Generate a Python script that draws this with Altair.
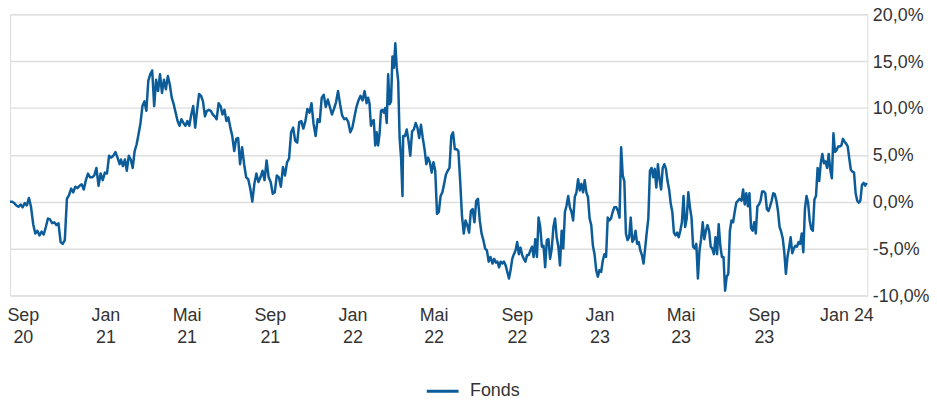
import altair as alt
import pandas as pd

# --- data (percent performance "Fonds") ---
seg_bounds = [
    ("2020-08-13", "2021-01-22"),
    ("2021-01-24", "2021-07-19"),
    ("2021-07-22", "2022-01-19"),
    ("2022-01-22", "2022-03-16"),
    ("2022-03-17", "2022-07-24"),
    ("2022-07-27", "2023-01-23"),
    ("2023-01-26", "2023-07-27"),
    ("2023-07-30", "2024-01-31"),
]

seg1 = [0.0, 0.0, -0.15, -0.4, -0.55, -0.3, -0.6, -0.15, -0.4, 0.4, -0.6, -2.4, -3.4, -3.1,
        -3.6, -3.2, -3.5, -2.7, -1.8, -1.9, -2.3, -2.2, -2.5, -2.3, -4.3, -4.5, -4.1, 0.3,
        0.7, 1.4, 1.0, 1.6, 1.45, 1.7, 1.85, 1.3, 2.3, 3.0, 2.6, 2.6, 2.8, 3.6, 1.7, 3.0,
        2.3, 3.1, 3.0, 4.9, 4.7, 4.9, 5.3, 4.7, 4.0]
seg2 = [4.5, 3.8, 4.5, 3.3, 4.9, 4.5, 3.6, 5.4, 6.1, 7.2, 8.4, 10.2, 10.7, 9.7, 12.9, 13.6,
        14.0, 10.2, 13.0, 11.8, 13.6, 11.6, 13.0, 12.0, 13.4, 12.5, 11.1, 10.4, 9.5, 8.6,
        8.1, 8.8, 8.4, 8.1, 8.6, 8.1, 9.3, 10.2, 7.9, 9.8, 11.5, 11.3, 10.7, 9.1, 9.7, 9.8,
        9.7, 9.3, 9.1, 8.8, 10.5, 10.2, 9.3, 9.8, 8.6, 9.0, 7.9, 7.0, 5.4, 6.7, 6.8, 4.0]
seg3 = [5.8, 4.0, 2.6, 2.4, 1.4, 0.0, 1.9, 3.0, 2.1, 2.6, 3.3, 2.3, 4.4, 2.6, 2.1, 0.85,
        1.0, 2.8, 2.6, 1.6, 3.7, 2.8, 4.2, 4.6, 7.4, 7.9, 6.5, 6.3, 8.5, 8.6, 7.8, 8.6, 9.9,
        9.5, 10.5, 8.3, 7.0, 8.8, 8.5, 11.1, 11.4, 10.1, 10.9, 10.1, 9.3, 9.9, 10.6, 11.8,
        10.4, 9.2, 8.8, 8.9, 8.5, 7.4, 7.9, 9.0, 10.1, 10.8, 11.3, 10.8, 11.8]
seg4 = [10.5, 11.1, 10.5, 8.1, 8.6, 8.7, 6.0, 7.4, 6.0, 7.2, 9.7, 9.8, 9.5, 10.0, 8.4, 13.6,
        10.4, 10.7, 15.5, 14.3, 16.9, 14.3, 12.9, 6.8, 4.7, 0.6]
seg5 = [7.0, 7.0, 7.7, 6.5, 4.9, 7.5, 7.7, 8.4, 7.9, 6.8, 8.2, 6.8, 5.6, 4.0, 4.7, 4.2, 3.1,
        4.2, 3.3, -1.3, -1.1, 0.6, 1.0, 1.9, 2.9, 3.3, 3.6, 7.0, 7.4, 5.6, 5.6, 5.4, 2.2,
        -1.5, -3.4, -2.0, -2.5, -3.3, -1.0, -0.8, -2.2, 0.1, 0.3, -2.0, -3.4, -4.1, -5.0,
        -5.2, -6.4, -5.9]
seg6 = [-6.6, -6.1, -6.5, -6.4, -7.0, -6.4, -6.6, -6.4, -6.8, -7.5, -8.2, -7.3, -6.1, -5.6,
        -5.2, -4.3, -5.6, -4.9, -5.7, -6.1, -6.4, -5.7, -5.7, -5.2, -4.8, -5.9, -4.0, -5.9,
        -1.7, -2.7, -4.8, -4.7, -7.0, -4.1, -4.0, -6.1, -5.0, -2.7, -1.8, -3.8, -4.8, -6.8,
        -3.1, -5.0, -1.1, -0.4, 0.6, -0.6, -1.1, -2.0, 0.5, 1.0, 2.4, 1.2, 1.9, 1.0, 2.3,
        1.0, 0.5, -1.8, -2.5, -4.7, -5.6, -7.3, -8.0, -7.3, -7.5, -6.3, -5.6, -5.9, -1.7,
        -2.0, -1.8, -1.1, -0.6]
seg7 = [-0.6, -1.0, -1.7, 5.8, 2.8, 2.2, -3.4, -4.1, -3.8, -1.7, -4.3, -4.0, -3.1, -4.5,
        -4.3, -5.2, -5.7, -6.6, -5.0, -3.3, -1.8, 3.3, 3.6, 2.6, 3.5, 1.5, 4.0, 2.4, 1.3,
        3.6, 4.0, 3.5, 2.2, 1.3, -0.2, -1.1, -3.3, -3.6, -3.3, -3.8, -3.1, -2.2, 0.6, -2.7,
        -1.8, 1.0, -0.6, -1.7, -4.8, -5.0, -4.5, -8.2, -5.2, -4.0, -2.2, -4.0, -3.1, -2.5,
        -3.1, -4.8, -5.0, -5.6, -3.8, -5.6, -2.4, -4.7, -5.9, -5.9, -9.5, -8.0, -7.7, -3.1,
        -2.0, -2.2, -1.1, -0.1, 0.1, 0.3]
seg8 = [0.1, 1.3, -0.3, 0.9, -0.5, 0.9, -2.8, -3.1, -2.2, -3.4, -0.5, -0.3, 0.1, 1.1, 1.1,
        0.9, -0.8, -1.0, -0.5, 0.1, 0.9, 0.8, 0.1, -1.0, -2.7, -3.2, -3.9, -5.4, -7.7, -5.9,
        -4.9, -3.8, -5.5, -5.0, -4.7, -4.8, -4.3, -4.5, -3.4, -5.4, -0.8, 0.6, -0.1, -2.0,
        -2.9, -3.1, 0.25, 0.6, 3.6, 2.2, 4.1, 5.1, 4.1, 4.3, 3.6, 5.1, 3.4, 2.5, 7.3, 5.3,
        5.5, 5.9, 5.9, 6.0, 6.7, 6.4, 6.2, 5.9, 4.6, 3.4, 3.2, 3.1, 0.9, 0.1, -0.1, 0.1,
        1.8, 2.0, 1.7, 2.0]

segments = [seg1, seg2, seg3, seg4, seg5, seg6, seg7, seg8]
series_name = "Fonds"
y_ticks = [-10, -5, 0, 5, 10, 15, 20]
x_ticks = [(2020, 9), (2021, 1), (2021, 5), (2021, 9), (2022, 1), (2022, 5),
           (2022, 9), (2023, 1), (2023, 5), (2023, 9), (2024, 1)]

rows = []
for (start, end), vals in zip(seg_bounds, segments):
    for d, v in zip(pd.date_range(start, end, periods=len(vals)), vals):
        rows.append({"date": d.strftime("%Y-%m-%dT%H:%M:%SZ"), "value": v, "series": series_name})
df = pd.DataFrame(rows)

FONT = "Liberation Sans"
LINE = "#0b5c99"

label_expr = (
    "utcmonth(datum.value)==0 ? (utcyear(datum.value)==2024 ? 'Jan 24' : "
    "['Jan', utcFormat(datum.value,'%y')]) : "
    "[utcmonth(datum.value)==4 ? 'Mai' : 'Sep', utcFormat(datum.value,'%y')]"
)

chart = alt.Chart(df).mark_line(strokeWidth=2.5, strokeJoin="round").encode(
    x=alt.X(
        "date:T",
        scale=alt.Scale(domain=[
            alt.DateTime(year=2020, month=8, date=13, utc=True),
            alt.DateTime(year=2024, month=2, date=1, utc=True),
        ]),
        axis=alt.Axis(
            values=[alt.DateTime(year=y, month=m, date=1, utc=True) for y, m in x_ticks],
            labelExpr=label_expr,
            title=None, domain=False, ticks=False, grid=False,
            labelFontSize=18, labelColor="#333333", labelFont=FONT,
            labelPadding=11, labelLineHeight=22, labelBaseline="top",
            labelAlign="center", labelOverlap=False, labelFlush=False,
        ),
    ),
    y=alt.Y(
        "value:Q",
        scale=alt.Scale(domain=[-10, 20], nice=False),
        axis=alt.Axis(
            orient="right", values=y_ticks, labelExpr="datum.value + ',0%'",
            title=None, domain=False, ticks=False, grid=True,
            gridColor="#dedede", gridWidth=1.5,
            labelFontSize=18, labelColor="#333333", labelFont=FONT,
            labelPadding=5, labelAlign="left", labelBaseline="middle",
            labelOffset=1,
        ),
    ),
    color=alt.Color(
        "series:N",
        scale=alt.Scale(range=[LINE]),
        legend=alt.Legend(
            orient="none", legendX=418, legendY=362, title=None,
            symbolType="stroke", symbolStrokeWidth=3, symbolSize=1024,
            labelFontSize=18, labelColor="#333333", labelFont=FONT,
            labelOffset=10, padding=0,
        ),
    ),
).properties(
    width=863, height=283,
    autosize=alt.AutoSizeParams(type="none"),
    padding={"left": 2, "top": 5, "right": 62, "bottom": 104},
).configure_view(
    fill="#efefef", stroke="transparent"
).configure(font=FONT)

chart.save("out.html", embed_options={"renderer": "svg", "actions": False})
